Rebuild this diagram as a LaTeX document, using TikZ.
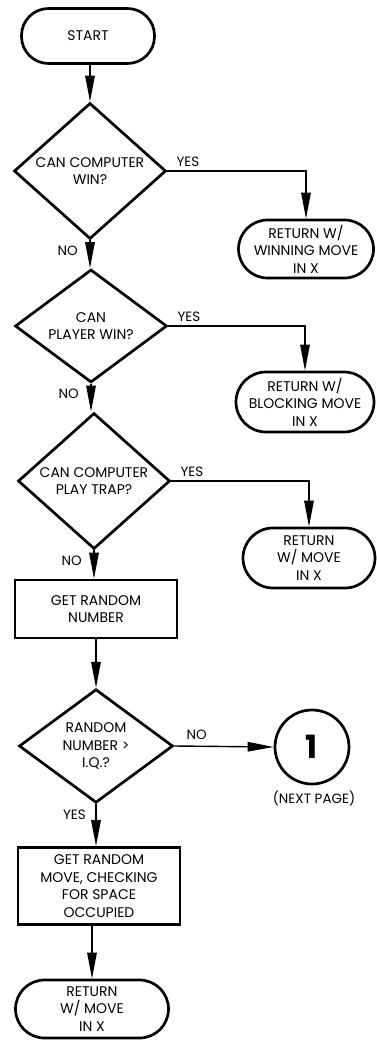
\documentclass[tikz,border=0pt]{standalone}
\usepackage{fontspec}
\setmainfont{Poppins}
\usetikzlibrary{arrows.meta,shapes.geometric}
\begin{document}
\begin{tikzpicture}[x=1pt,y=-1pt,
  box/.style={draw, line width=2.7pt, align=center, inner sep=0pt,
    font=\fontsize{14}{17.5}\selectfont},
  term/.style={box, rectangle},
  dec/.style={box, diamond, minimum width=152pt, minimum height=102pt},
  proc/.style={box, rectangle, minimum width=162pt},
  conn/.style={line width=1.4pt, -{Triangle[length=26pt,width=9.5pt]}},
  lab/.style={inner sep=0pt, font=\fontsize{13.5}{15}\selectfont}]
\useasboundingbox (0,0) rectangle (376,1040);

\node[term, rounded corners=27pt, minimum width=133pt, minimum height=55pt] (start) at (88,36) {START};
\node[dec] (d1) at (90,171) {CAN COMPUTER\\WIN?};
\node[term, rounded corners=29pt, minimum width=135pt, minimum height=58pt] (r1) at (306,249) {RETURN W/\\WINNING MOVE\\IN X};
\node[dec] (d2) at (91,326) {CAN\\PLAYER WIN?};
\node[term, rounded corners=30pt, minimum width=138pt, minimum height=60pt] (r2) at (305,402) {RETURN W/\\BLOCKING MOVE\\IN X};
\node[dec] (d3) at (94,481) {CAN COMPUTER\\PLAY TRAP?};
\node[term, rounded corners=30pt, minimum width=132pt, minimum height=60pt] (r3) at (309,558) {RETURN\\W/ MOVE\\IN X};
\node[proc, minimum height=58pt] (p1) at (96,609) {GET RANDOM\\NUMBER};
\node[dec, minimum width=154pt, minimum height=104pt] (d4) at (96,746) {RANDOM\\NUMBER >\\I.Q.?};
\node[box, circle, minimum size=74pt, font=\fontsize{32}{32}\selectfont\bfseries] (c1) at (312,747) {1};
\node[lab] (np) at (314,798) {(NEXT PAGE)};
\node[proc, minimum height=77pt] (p2) at (99,886) {GET RANDOM\\MOVE, CHECKING\\FOR SPACE\\OCCUPIED};
\node[term, rounded corners=29pt, minimum width=153pt, minimum height=58pt] (rf) at (92,1009) {RETURN\\W/ MOVE\\IN X};

% connectors
\draw[conn] (d1.north |- start.south) -- (d1.north);
\draw[conn] (d1.east) -- (r1.north |- d1.east) -- (r1.north);
\draw[conn] (d1.south) -- (d2.north -| d1.south);
\draw[conn] (d2.east) -- (r2.north |- d2.east) -- (r2.north);
\draw[conn] (d2.south) -- (d3.north -| d2.south);
\draw[conn] (d3.east) -- (r3.north |- d3.east) -- (r3.north);
\draw[conn] (d3.south) -- (p1.north -| d3.south);
\draw[conn] (p1.south) -- (d4.north -| p1.south);
\draw[conn] (d4.east) -- (c1.west);
\draw[conn] (d4.south) -- (p2.north -| d4.south);
\draw[conn] (p2.south -| rf.north) -- (rf.north);

% labels
\node[lab, anchor=south west] (y1) at ([xshift=9pt,yshift=4pt]d1.east) {YES};
\node[lab, anchor=north east] (n1) at ([xshift=-12pt,yshift=-5pt]d1.south) {NO};
\node[lab, anchor=south west] (y2) at ([xshift=9pt,yshift=4pt]d2.east) {YES};
\node[lab, anchor=north east] (n2) at ([xshift=-12pt,yshift=-5pt]d2.south) {NO};
\node[lab, anchor=south west] (y3) at ([xshift=9pt,yshift=4pt]d3.east) {YES};
\node[lab, anchor=north east] (n3) at ([xshift=-12pt,yshift=-5pt]d3.south) {NO};
\node[lab, anchor=south west] (n4) at ([xshift=12pt,yshift=6pt]d4.east) {NO};
\node[lab, anchor=north east] (y4) at ([xshift=-10pt,yshift=-6pt]d4.south) {YES};
\end{tikzpicture}
\end{document}
